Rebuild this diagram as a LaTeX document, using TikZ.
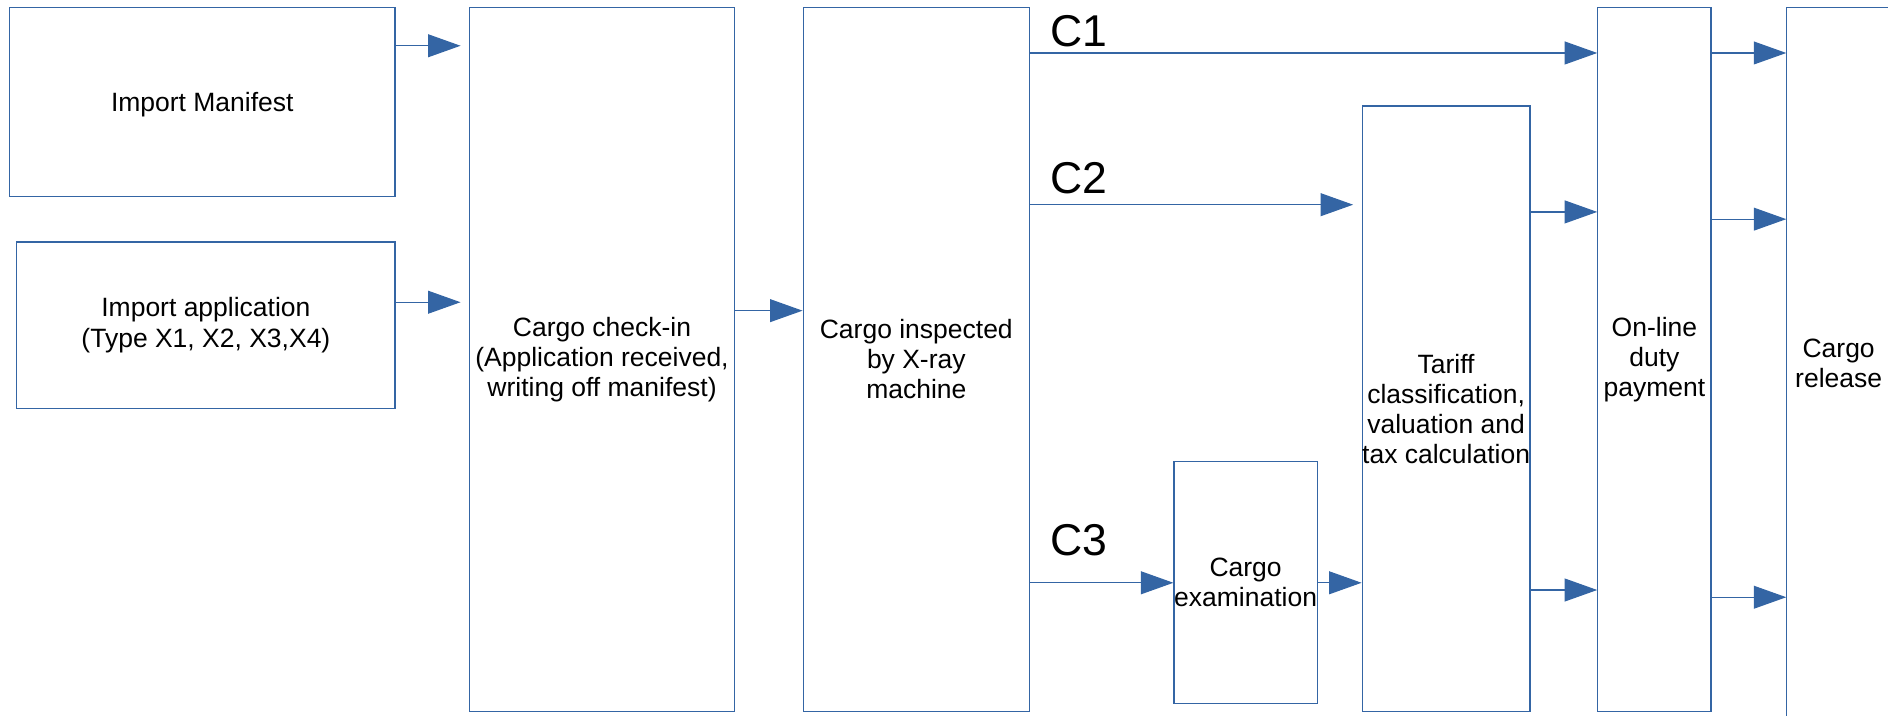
\documentclass[tikz,border=0pt]{standalone}
\usepackage{fontspec}
\setmainfont{Liberation Sans}
\usetikzlibrary{arrows.meta}
\definecolor{lblue}{HTML}{3465A4}
\begin{document}
\begin{tikzpicture}[x=1pt,y=-1pt,
  box/.style={draw=lblue, line width=1pt, rectangle, inner sep=0pt, align=center,
    font=\fontsize{22}{25}\selectfont, text=black},
  clabel/.style={inner sep=0pt, anchor=base west, font=\fontsize{37}{40}\selectfont},
  arr/.style={draw=lblue, line width=1pt, -{Triangle[length=27pt,width=19pt]}}]
\useasboundingbox (0,0) rectangle (1568,594.6);
% boxes
\node[box, text depth=0pt, minimum width=320pt, minimum height=157pt] (man) at (168,84.5) {Import Manifest};
\node[box, minimum width=314pt, minimum height=138pt] (app) at (171,270) {Import application\\(Type X1, X2, X3,X4)};
\node[box, minimum width=220pt, minimum height=585pt] (chk) at (500,298.5) {Cargo check-in\\(Application received,\\writing off manifest)};
\node[box, minimum width=188pt, minimum height=585pt] (insp) at (761,298.5) {Cargo inspected\\by X-ray\\machine};
\node[box, minimum width=119pt, minimum height=201pt] (exam) at (1034.5,484) {Cargo\\examination};
\node[box, minimum width=138pt, minimum height=503pt] (tar) at (1201,339.5) {Tariff\\classification,\\valuation and\\tax calculation};
\node[box, minimum width=94pt, minimum height=585pt] (onl) at (1374,298.5) {On-line\\duty\\payment};
\node[box, minimum width=86pt, minimum height=592pt] (rel) at (1527,302) {Cargo\\release};
% labels
\node[clabel] (c1) at (872,39) {C1};
\node[clabel] (c2) at (872,161) {C2};
\node[clabel] (c3) at (872,461) {C3};
% connectors
\draw[arr, shorten >=7pt] (man.east |- 0,38) -- (chk.west |- 0,38);
\draw[arr, shorten >=7pt] (app.east |- 0,251) -- (chk.west |- 0,251);
\draw[arr] (chk.east |- 0,258) -- (insp.west |- 0,258);
\draw[arr] (insp.east |- 0,44) -- (onl.west |- 0,44);
\draw[arr, shorten >=7pt] (insp.east |- 0,170) -- (tar.west |- 0,170);
\draw[arr] (insp.east |- 0,484) -- (exam.west |- 0,484);
\draw[arr] (exam.east |- 0,484) -- (tar.west |- 0,484);
\draw[arr] (tar.east |- 0,176) -- (onl.west |- 0,176);
\draw[arr] (tar.east |- 0,490) -- (onl.west |- 0,490);
\draw[arr] (onl.east |- 0,44) -- (rel.west |- 0,44);
\draw[arr] (onl.east |- 0,182) -- (rel.west |- 0,182);
\draw[arr] (onl.east |- 0,496) -- (rel.west |- 0,496);
\end{tikzpicture}
\end{document}
